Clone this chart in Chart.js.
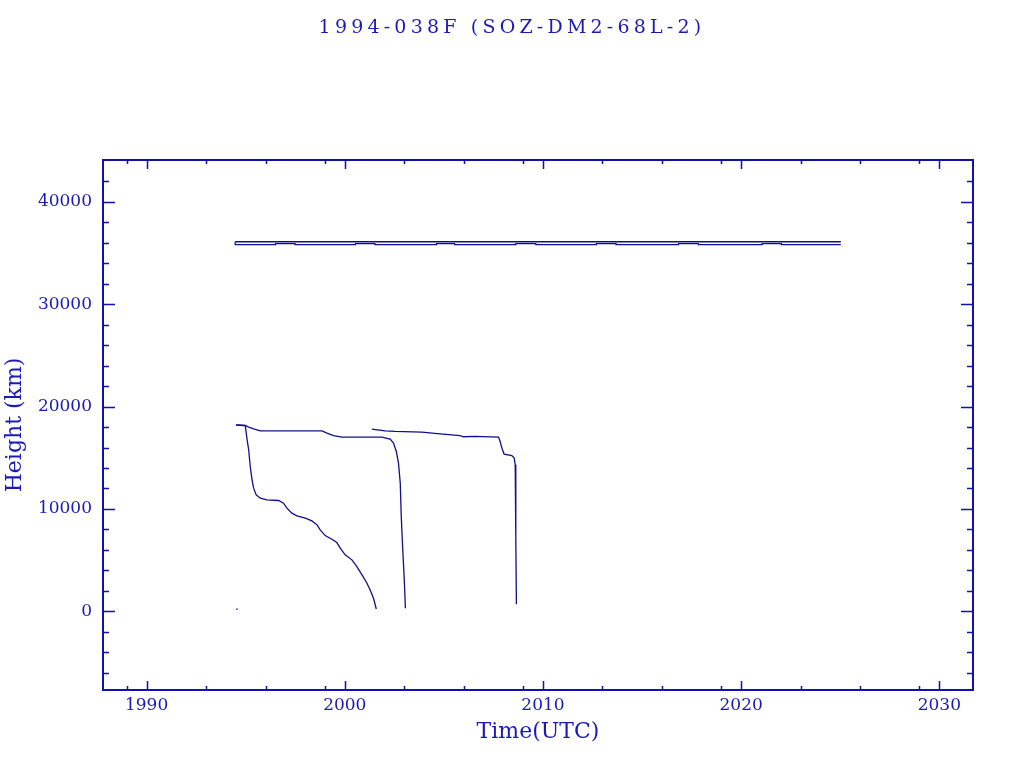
<!DOCTYPE html>
<html>
<head>
<meta charset="utf-8">
<script src="https://cdn.jsdelivr.net/npm/chart.js@4"></script>
<style>
    body { margin: 0; background: #fff; }
    #wrap { position: relative; width: 1024px; height: 768px; }
    #title {
        position: absolute; left: 0; top: 15px; width: 1024px; text-align: center;
        font-family: 'DejaVu Serif', serif; font-size: 19px; letter-spacing: 4.2px;
        color: #1a1ab8;
    }
</style>
</head>
<body>
<div id="wrap">
    <div id="title">1994-038F (SOZ-DM2-68L-2)</div>
    <canvas id="chart" width="1024" height="768"></canvas>
</div>
<script>
// --- data (years, km) ---
const xMajorTicks = [1990, 2000, 2010, 2020, 2030];
const xMinorTicks = [1989, 1993, 1996, 1999, 2003, 2006, 2009, 2013, 2016, 2019, 2023, 2026, 2029];
const yMajorTicks = [0, 10000, 20000, 30000, 40000];
const yMinorTicks = [-6000, -4000, -2000, 2000, 4000, 6000, 8000, 12000, 14000, 16000, 18000,
    22000, 24000, 26000, 28000, 32000, 34000, 36000, 38000, 42000];

const geoApogeeYears = [1994.47, 2025.03];
const geoApogeeKm = [36110, 36110];

const geoPerigeeYears = [1994.47, 1994.47, 1996.51, 1996.51, 1997.49, 1997.49, 2000.54, 2000.54,
    2001.52, 2001.52, 2004.63, 2004.63, 2005.54, 2005.54, 2008.63, 2008.63, 2009.64, 2009.64,
    2012.70, 2012.70, 2013.69, 2013.69, 2016.84, 2016.84, 2017.84, 2017.84, 2021.06, 2021.06,
    2022.03, 2022.03, 2025.03];
const geoPerigeeKm = [36110, 35820, 35820, 35920, 35920, 35820, 35820, 35920,
    35920, 35820, 35820, 35920, 35920, 35820, 35820, 35920, 35920, 35820,
    35820, 35920, 35920, 35820, 35820, 35920, 35920, 35820, 35820, 35920,
    35920, 35820, 35820];

const decayAYears = [1994.52, 1994.98, 1995.06, 1995.15, 1995.23, 1995.32, 1995.40, 1995.53, 1995.74,
    1996.07, 1996.66, 1996.91, 1997.08, 1997.33, 1997.59, 1998.01, 1998.34, 1998.60, 1998.76,
    1999.01, 1999.35, 1999.60, 1999.77, 2000.02, 2000.36, 2000.61, 2000.87, 2001.12, 2001.28,
    2001.45, 2001.59];
const decayAKm = [18200, 18150, 16920, 15780, 14140, 12840, 12030, 11370, 11050,
    10890, 10820, 10560, 10070, 9580, 9320, 9100, 8830, 8440, 7950,
    7390, 7040, 6710, 6160, 5510, 5020, 4360, 3550, 2740, 2080,
    1270, 220];

const decayBYears = [1994.52, 1994.98, 1995.15, 1995.40, 1995.74, 1998.85, 1999.10, 1999.43, 1999.86,
    2001.87, 2002.29, 2002.46, 2002.60, 2002.71, 2002.80, 2002.85, 2002.91, 2002.96, 2003.01, 2003.06];
const decayBKm = [18200, 18150, 17990, 17830, 17630, 17630, 17410, 17170, 17020,
    17020, 16820, 16430, 15610, 14470, 12520, 9250, 6650, 4690, 2740, 290];

const decayCYears = [2001.37, 2002.04, 2002.54, 2003.89, 2004.81, 2005.82, 2005.99, 2006.58, 2007.76,
    2007.84, 2007.93, 2008.04, 2008.43, 2008.55, 2008.60, 2008.63, 2008.66];
const decayCKm = [17800, 17630, 17570, 17510, 17340, 17170, 17050, 17080, 17020,
    16590, 15940, 15360, 15220, 14960, 14310, 7140, 690];

const strayYears = [1994.56];
const strayKm = [200];

const axisColor = '#1212aa';
const textColor = '#1a1ab8';
const lineColor = '#10108c';

function pts(xs, ys) {
    return xs.map((x, i) => ({ x: x, y: ys[i] }));
}

function series(xs, ys) {
    return {
        data: pts(xs, ys),
        showLine: true,
        borderColor: lineColor,
        borderWidth: 1.3,
        pointRadius: 0,
        tension: 0
    };
}

// frame box with inward major/minor ticks on all four sides (IDL style)
const frameTicks = {
    id: 'frameTicks',
    afterDatasetsDraw(chart) {
        const { ctx, chartArea: a, scales: { x, y } } = chart;
        ctx.save();
        ctx.strokeStyle = axisColor;
        ctx.lineWidth = 1.5;
        ctx.beginPath();
        const xTick = (v, len) => {
            const px = Math.round(x.getPixelForValue(v)) + 0.5;
            ctx.moveTo(px, a.bottom); ctx.lineTo(px, a.bottom - len);
            ctx.moveTo(px, a.top); ctx.lineTo(px, a.top + len);
        };
        const yTick = (v, len) => {
            const py = Math.round(y.getPixelForValue(v)) + 0.5;
            ctx.moveTo(a.left, py); ctx.lineTo(a.left + len, py);
            ctx.moveTo(a.right, py); ctx.lineTo(a.right - len, py);
        };
        xMajorTicks.forEach(v => xTick(v, 9));
        xMinorTicks.forEach(v => xTick(v, 4));
        yMajorTicks.forEach(v => yTick(v, 12));
        yMinorTicks.forEach(v => yTick(v, 6));
        ctx.stroke();
        ctx.lineWidth = 2;
        ctx.strokeRect(a.left, a.top, a.right - a.left, a.bottom - a.top);
        ctx.restore();
    }
};

const ctx = document.getElementById('chart').getContext('2d');
new Chart(ctx, {
    type: 'scatter',
    data: {
        datasets: [
            series(geoApogeeYears, geoApogeeKm),
            series(geoPerigeeYears, geoPerigeeKm),
            series(decayAYears, decayAKm),
            series(decayBYears, decayBKm),
            series(decayCYears, decayCKm),
            {
                data: pts(strayYears, strayKm),
                backgroundColor: lineColor,
                borderWidth: 0,
                pointRadius: 0.8
            }
        ]
    },
    options: {
        responsive: false,
        animation: false,
        layout: { padding: { top: 160, right: 51, bottom: 0, left: 0 } },
        plugins: {
            legend: { display: false },
            tooltip: { enabled: false }
        },
        scales: {
            x: {
                type: 'linear',
                min: 1987.8,
                max: 2031.7,
                grid: { display: false, drawTicks: false },
                border: { display: false },
                afterBuildTicks: s => { s.ticks = xMajorTicks.map(v => ({ value: v })); },
                afterFit: s => { s.height = 78; },
                ticks: {
                    padding: 5,
                    color: textColor,
                    font: { family: 'DejaVu Serif', size: 17 },
                    maxRotation: 0,
                    callback: v => String(v)
                },
                title: {
                    display: true,
                    text: 'Time(UTC)',
                    color: textColor,
                    font: { family: 'DejaVu Serif', size: 22 },
                    padding: { top: 0, bottom: 23 }
                }
            },
            y: {
                type: 'linear',
                min: -7700,
                max: 44100,
                grid: { display: false, drawTicks: false },
                border: { display: false },
                afterBuildTicks: s => { s.ticks = yMajorTicks.map(v => ({ value: v })); },
                afterFit: s => { s.width = 103; },
                ticks: {
                    padding: 11,
                    color: textColor,
                    font: { family: 'DejaVu Serif', size: 17 },
                    callback: v => String(v)
                },
                title: {
                    display: true,
                    text: 'Height (km)',
                    color: textColor,
                    font: { family: 'DejaVu Serif', size: 22 },
                    padding: { top: 2, bottom: 0 }
                }
            }
        }
    },
    plugins: [frameTicks]
});
</script>
</body>
</html>
